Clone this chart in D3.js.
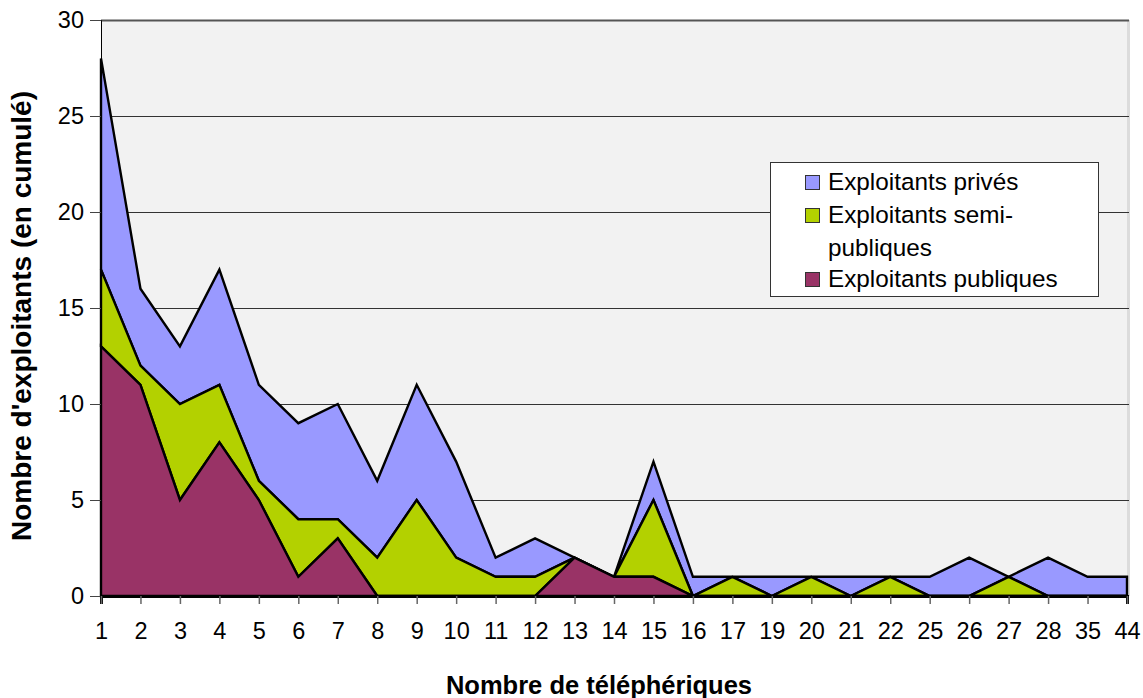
<!DOCTYPE html>
<html>
<head>
<meta charset="utf-8">
<script src="https://cdn.jsdelivr.net/npm/d3@7/dist/d3.min.js"></script>
<style>
  html, body { margin: 0; padding: 0; background: #fff; }
  svg { display: block; font-family: "Liberation Sans", Arial, sans-serif; }
</style>
</head>
<body>
<svg id="chart" width="1143" height="698"></svg>
<script>
// Number of cable cars per operator (x categories)
const categories = ["1","2","3","4","5","6","7","8","9","10","11","12","13","14","15","16","17","19","20","21","22","25","26","27","28","35","44"];
// Operators per category, by type (stacked bottom to top)
const publiques     = [13,11,5,8,5,1,3,0,0,0,0,0,2,1,1,0,0,0,0,0,0,0,0,0,0,0,0];
const semiPubliques = [4,1,5,3,1,3,1,2,5,2,1,1,0,0,4,0,1,0,1,0,1,0,0,1,0,0,0];
const prives        = [11,4,3,6,5,5,6,4,6,5,1,2,0,0,2,1,0,1,0,1,0,1,2,0,2,1,1];
const yTicks = [0,5,10,15,20,25,30];

const seriesKeys = ["publiques", "semi", "prives"];
const seriesLabels = { prives: "Exploitants privés", semi: ["Exploitants semi-", "publiques"], publiques: "Exploitants publiques" };
const colors = { publiques: "#993366", semi: "#b3d100", prives: "#9999ff" };

const rows = categories.map((c, i) => ({ cat: c, publiques: publiques[i], semi: semiPubliques[i], prives: prives[i] }));
const stacked = d3.stack().keys(seriesKeys)(rows);

const svg = d3.select("#chart");
const plotLeft = 101, plotRight = 1127, plotTop = 20, plotBottom = 596;
const FONT = "Liberation Sans, Arial, sans-serif";

const x = d3.scalePoint().domain(categories).range([plotLeft, plotRight]);
const y = d3.scaleLinear().domain([0, 30]).range([plotBottom, plotTop]);

// plot background with a faint right-edge shade
svg.append("rect").attr("x", plotLeft).attr("y", plotTop).attr("width", plotRight - plotLeft).attr("height", plotBottom - plotTop).attr("fill", "#f2f2f2");
svg.append("rect").attr("x", plotRight).attr("y", plotTop).attr("width", 3).attr("height", plotBottom - plotTop).attr("fill", "#dcdcdc");

// horizontal gridlines
svg.append("g").selectAll("line").data(yTicks.filter(t => t > 0)).join("line")
  .attr("x1", plotLeft).attr("x2", plotRight + 2)
  .attr("y1", d => y(d) + 0.5).attr("y2", d => y(d) + 0.5)
  .attr("stroke", d => d === 30 ? "#555" : "#333").attr("stroke-width", d => d === 30 ? 2 : 1);

// stacked areas, each outlined in black
const area = d3.area()
  .x((d, i) => x(categories[i]))
  .y0(d => y(d[0]))
  .y1(d => y(d[1]));

const order = ["prives", "semi", "publiques"];
svg.append("g").selectAll("path").data(order.map(k => stacked.find(s => s.key === k))).join("path")
  .attr("d", s => area(s))
  .attr("fill", s => colors[s.key])
  .attr("stroke", "#000").attr("stroke-width", 2.4).attr("stroke-linejoin", "miter");

// axes
const yAxis = d3.axisLeft(y).tickValues(yTicks).tickSize(11).tickPadding(6);
const gy = svg.append("g").attr("transform", `translate(${plotLeft},0)`).call(yAxis);
gy.select(".domain").attr("stroke", "#000").attr("stroke-width", 1);
gy.selectAll(".tick line").attr("stroke", "#444");
gy.selectAll("text").attr("font-size", 23.5).attr("fill", "#000").attr("font-family", FONT);

const xAxis = d3.axisBottom(x).tickSize(8).tickPadding(18);
const gx = svg.append("g").attr("transform", `translate(0,${plotBottom})`).call(xAxis);
gx.select(".domain").attr("stroke", "#000").attr("stroke-width", 3);
gx.selectAll(".tick line").attr("stroke", "#666").attr("stroke-width", 1.5);
gx.selectAll("text").attr("font-size", 23.5).attr("fill", "#000").attr("font-family", FONT);

// axis titles
svg.append("text").attr("x", 599).attr("y", 694).attr("text-anchor", "middle")
  .attr("font-family", FONT).attr("font-size", 25.5).attr("font-weight", "bold").text("Nombre de téléphériques");
svg.append("text").attr("transform", "translate(31,316) rotate(-90)").attr("text-anchor", "middle")
  .attr("font-family", FONT).attr("font-size", 28).attr("font-weight", "bold").text("Nombre d'exploitants (en cumulé)");

// legend
const lg = svg.append("g");
lg.append("rect").attr("x", 770.5).attr("y", 162.5).attr("width", 328).attr("height", 134)
  .attr("fill", "#fff").attr("stroke", "#333").attr("stroke-width", 1);
const legendItems = [
  { key: "prives", y: 190 },
  { key: "semi", y: 223 },
  { key: "publiques", y: 287 }
];
legendItems.forEach(it => {
  lg.append("rect").attr("x", 805.5).attr("y", it.y - 14.5).attr("width", 14).attr("height", 14)
    .attr("fill", colors[it.key]).attr("stroke", "#333").attr("stroke-width", 1);
  const lab = seriesLabels[it.key];
  const lines = Array.isArray(lab) ? lab : [lab];
  lines.forEach((t, j) => {
    lg.append("text").attr("x", 828).attr("y", it.y + j * 32.5)
      .attr("font-family", FONT).attr("font-size", 24.3).attr("fill", "#000").text(t);
  });
});
</script>
</body>
</html>
